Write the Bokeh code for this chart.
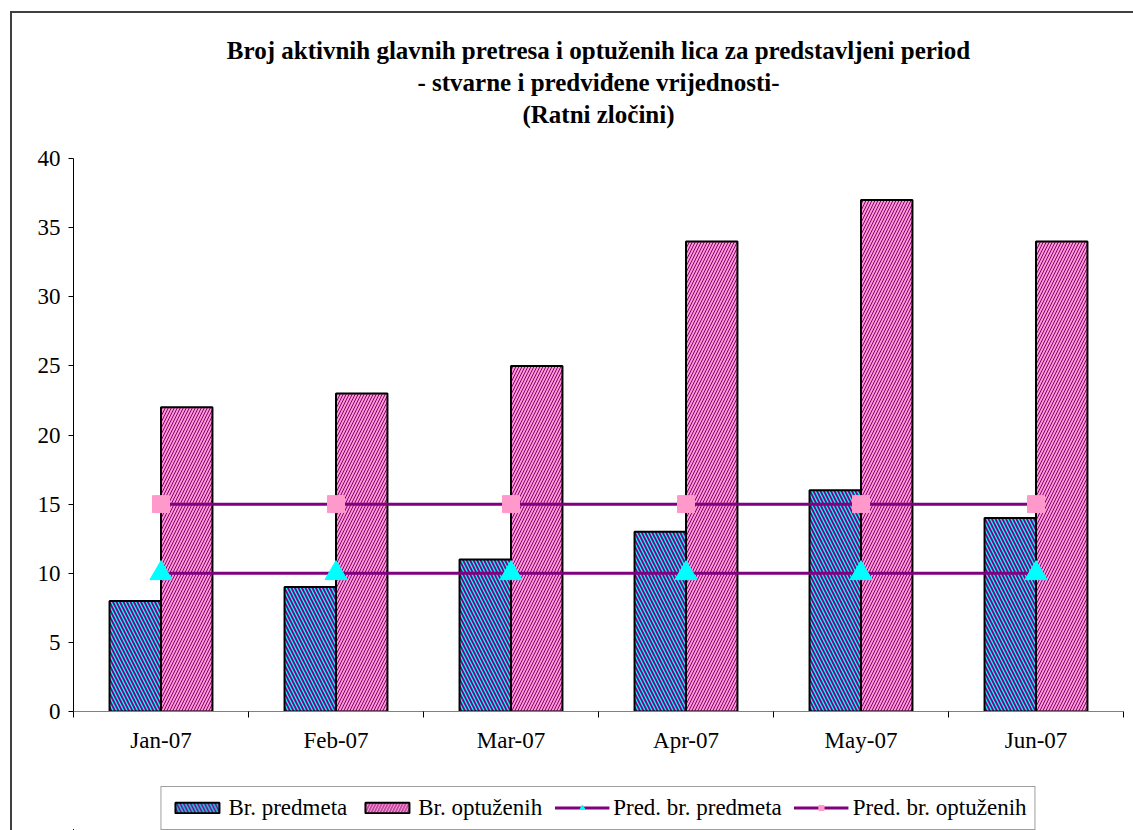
from bokeh.plotting import figure
from bokeh.layouts import column
from bokeh.models import (Range1d, FixedTicker, Legend, LegendItem, Title, ColumnDataSource)
from bokeh.embed import file_html
from bokeh.resources import INLINE

months = ["Jan-07", "Feb-07", "Mar-07", "Apr-07", "May-07", "Jun-07"]
br_predmeta = [8, 9, 11, 13, 16, 14]
br_optuzenih = [22, 23, 25, 34, 37, 34]
pred_br_predmeta = [10, 10, 10, 10, 10, 10]
pred_br_optuzenih = [15, 15, 15, 15, 15, 15]
y_ticks = [0, 5, 10, 15, 20, 25, 30, 35, 40]
legend_labels = ["Br. predmeta", "Br. optuženih", "Pred. br. predmeta", "Pred. br. optuženih"]

FONT = "Liberation Serif"
PURPLE = "#800080"
CYAN = "#00FFFF"
PINK = "#FF99CC"

idx = list(range(len(months)))
centers = [i + 0.5 for i in idx]
bw = 0.294
src = ColumnDataSource(dict(
    x_blue=[c - bw / 2 for c in centers],
    x_pink=[c + bw / 2 for c in centers],
    xc=centers,
    b=br_predmeta, o=br_optuzenih, pb=pred_br_predmeta, po=pred_br_optuzenih,
))

BLUE_BAR = dict(fill_color=CYAN, line_color="black", line_width=2, hatch_pattern="\\",
                hatch_color=PURPLE, hatch_weight=1.8, hatch_scale=7)
PINK_BAR = dict(fill_color=PINK, line_color="black", line_width=2, hatch_pattern="/",
                hatch_color=PURPLE, hatch_weight=1.0, hatch_scale=6)
LINE = dict(line_color=PURPLE, line_width=3)
TRI = dict(marker="triangle", size=22, fill_color=CYAN, line_color=CYAN)
SQ = dict(marker="square", size=17, fill_color=PINK, line_color=PINK)

p = figure(width=1121, height=762, output_backend="svg", toolbar_location=None,
           x_range=Range1d(0, len(months)), y_range=Range1d(0, 40),
           min_border_left=61, min_border_right=10, min_border_top=145,
           min_border_bottom=64, background_fill_color="white",
           border_fill_color="white", outline_line_color=None)

# spacer + title lines (added bottom-up)
p.add_layout(Title(text=" ", text_font_size="10px", standoff=16), "above")
titles = ["(Ratni zločini)", "- stvarne i predviđene vrijednosti-",
          "Broj aktivnih glavnih pretresa i optuženih lica za predstavljeni period"]
for t in titles:
    p.add_layout(Title(text=t, align="center", text_font=FONT, text_font_size="25px",
                       text_font_style="bold", text_color="black", standoff=3,
                       offset=-19), "above")

p.xgrid.visible = False
p.ygrid.visible = False

p.vbar(x="x_blue", top="b", width=bw, source=src, **BLUE_BAR)
p.vbar(x="x_pink", top="o", width=bw, source=src, **PINK_BAR)
p.line(x="xc", y="pb", source=src, **LINE)
p.scatter(x="xc", y="pb", source=src, **TRI)
p.line(x="xc", y="po", source=src, **LINE)
p.scatter(x="xc", y="po", source=src, **SQ)

# axes
p.yaxis.ticker = FixedTicker(ticks=y_ticks)
p.yaxis.major_tick_out = 5
p.yaxis.major_tick_in = 0
p.yaxis.minor_tick_line_color = None
p.yaxis.axis_line_color = "black"
p.yaxis.major_tick_line_color = "black"
p.yaxis.major_label_text_font = FONT
p.yaxis.major_label_text_font_size = "23px"
p.yaxis.major_label_text_color = "black"
p.yaxis.major_label_standoff = 8

p.xaxis.ticker = FixedTicker(ticks=centers, minor_ticks=[float(i) for i in range(len(months) + 1)])
p.xaxis.major_label_overrides = {c: m for c, m in zip(centers, months)}
p.xaxis.major_tick_out = 0
p.xaxis.major_tick_in = 0
p.xaxis.minor_tick_out = 6
p.xaxis.minor_tick_in = 0
p.xaxis.minor_tick_line_color = "black"
p.xaxis.axis_line_color = "#808080"
p.xaxis.major_label_text_font = FONT
p.xaxis.major_label_text_font_size = "23px"
p.xaxis.major_label_text_color = "black"
p.xaxis.major_label_standoff = 10

# legend strip: same series drawn outside its visible ranges, only the legend shows
lf = figure(width=1121, height=55, output_backend="svg", toolbar_location=None,
            x_range=Range1d(100, 101), y_range=Range1d(100, 101),
            x_axis_type=None, y_axis_type=None,
            min_border_left=61, min_border_right=10, min_border_top=10, min_border_bottom=0,
            background_fill_color="white", border_fill_color="white", outline_line_color=None)
lf.xgrid.visible = False
lf.ygrid.visible = False
rb = lf.vbar(x="x_blue", top="b", width=bw, source=src, **BLUE_BAR)
rp = lf.vbar(x="x_pink", top="o", width=bw, source=src, **PINK_BAR)
la = lf.line(x="xc", y="pb", source=src, **LINE)
ma = lf.scatter(x="xc", y="pb", source=src, **TRI)
lb = lf.line(x="xc", y="po", source=src, **LINE)
mb = lf.scatter(x="xc", y="po", source=src, **SQ)

legend = Legend(items=[
    LegendItem(label=legend_labels[0], renderers=[rb]),
    LegendItem(label=legend_labels[1], renderers=[rp]),
    LegendItem(label=legend_labels[2], renderers=[la, ma]),
    LegendItem(label=legend_labels[3], renderers=[lb, mb]),
], orientation="horizontal", location="center",
    label_text_font=FONT, label_text_font_size="23px", label_text_color="black",
    border_line_color="#404040", border_line_width=1, background_fill_color="white",
    background_fill_alpha=1.0,
    glyph_width=55, glyph_height=13, label_standoff=4, spacing=12,
    padding=8, margin=0)
lf.add_layout(legend, "center")

layout = column(p, lf, spacing=0, margin=(11, 0, 0, 10),
                styles={"border-left": "2px solid #404040", "border-top": "2px solid #404040"})

open("out.html", "w").write(file_html(layout, INLINE))
